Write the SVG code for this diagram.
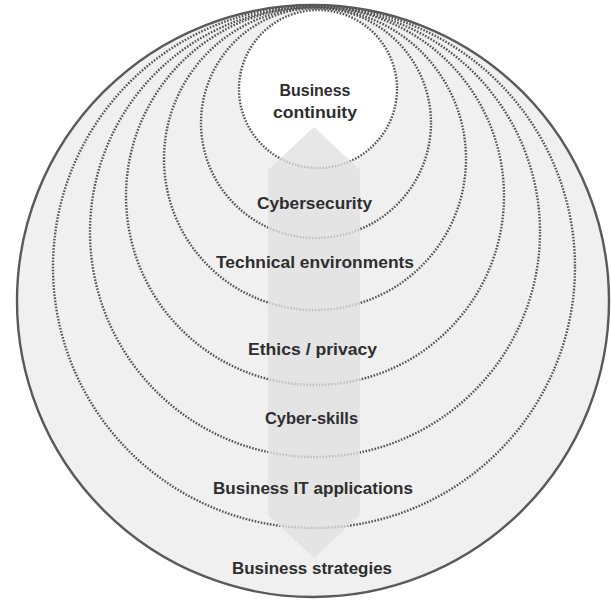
<svg xmlns="http://www.w3.org/2000/svg" width="611" height="601" viewBox="0 0 611 601">
  <style>
    .ring { fill: none; stroke: #555; stroke-width: 2.4; stroke-dasharray: 1.6 1.5; }
    .lbl { font-family: "Liberation Sans", Arial, sans-serif; font-weight: bold; font-size: 16.5px; fill: #2e2e2e; text-anchor: middle; }
  </style>
  <rect width="611" height="601" fill="#ffffff"/>
  <g id="business-strategies">
    <circle cx="313" cy="301" r="296" fill="#f0f0f0" stroke="#5a5a5a" stroke-width="2.4"/>
  </g>
  <g id="business-it-applications">
    <circle class="ring" cx="314" cy="267" r="261"/>
  </g>
  <g id="cyber-skills">
    <circle class="ring" cx="315" cy="232" r="225"/>
  </g>
  <g id="ethics-privacy">
    <circle class="ring" cx="315" cy="196" r="189"/>
  </g>
  <g id="technical-environments">
    <circle class="ring" cx="315" cy="159" r="151"/>
  </g>
  <g id="cybersecurity">
    <circle class="ring" cx="316" cy="123" r="115"/>
  </g>
  <g id="business-continuity">
    <circle class="ring" cx="318" cy="89" r="79" style="fill:#ffffff"/>
  </g>
  <g id="connectors">
    <path d="M314 127 L360 170 L360 515 L314 558 L268 515 L268 170 Z" fill="#e0e0e0" fill-opacity="0.78"/>
  </g>
  <g id="labels">
    <text class="lbl" x="315" y="96" textLength="71" lengthAdjust="spacingAndGlyphs">Business</text>
    <text class="lbl" x="315" y="118" textLength="84" lengthAdjust="spacingAndGlyphs">continuity</text>
    <text class="lbl" x="314.5" y="209" textLength="115" lengthAdjust="spacingAndGlyphs">Cybersecurity</text>
    <text class="lbl" x="315" y="268" textLength="198" lengthAdjust="spacingAndGlyphs">Technical environments</text>
    <text class="lbl" x="312.5" y="355" textLength="129" lengthAdjust="spacingAndGlyphs">Ethics / privacy</text>
    <text class="lbl" x="311.5" y="424" textLength="93" lengthAdjust="spacingAndGlyphs">Cyber-skills</text>
    <text class="lbl" x="313" y="494" textLength="200" lengthAdjust="spacingAndGlyphs">Business IT applications</text>
    <text class="lbl" x="312" y="574" textLength="160" lengthAdjust="spacingAndGlyphs">Business strategies</text>
  </g>
</svg>
